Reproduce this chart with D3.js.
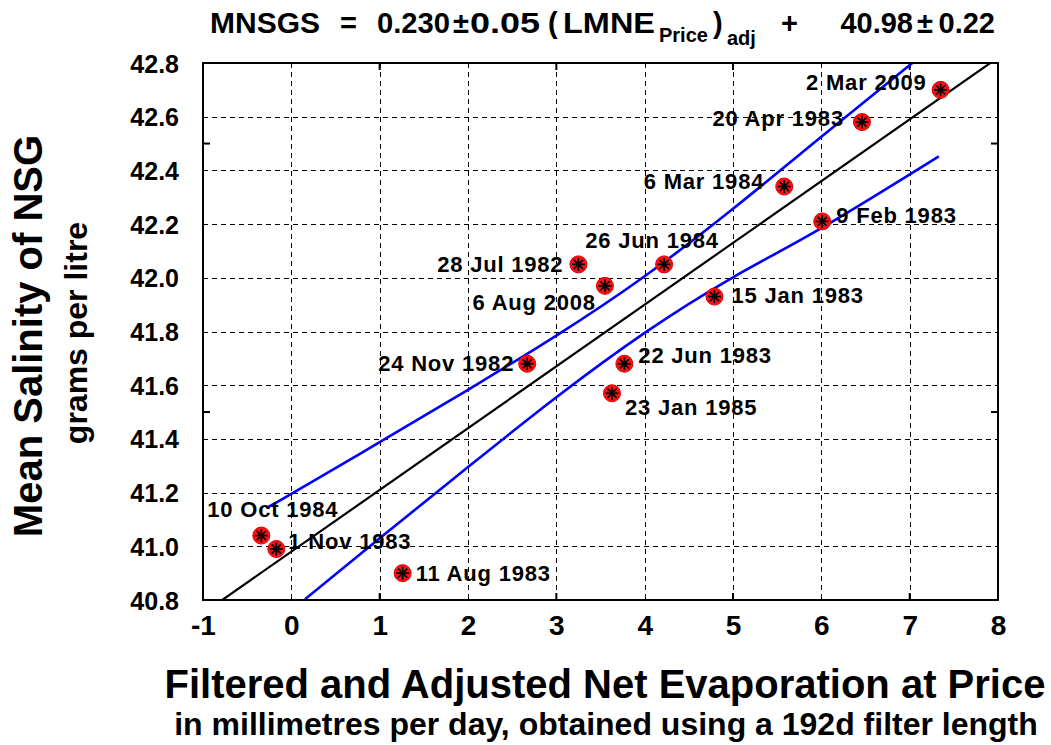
<!DOCTYPE html>
<html>
<head>
<meta charset="utf-8">
<script src="https://cdn.jsdelivr.net/npm/d3@7"></script>
<style>
  body { margin: 0; background: #fff; }
  svg { display: block; }
  text { font-family: "Liberation Sans", Arial, Helvetica, sans-serif; font-weight: bold; fill: #000; }
</style>
</head>
<body>
<svg id="chart" width="1051" height="745"></svg>
<script>
// Sampling dates, filtered net evaporation (mm/day) and mean salinity (g/L)
const sampleDates = ["10 Oct 1984", "1 Nov 1983", "11 Aug 1983", "24 Nov 1982", "28 Jul 1982",
  "6 Aug 2008", "26 Jun 1984", "23 Jan 1985", "22 Jun 1983", "15 Jan 1983",
  "6 Mar 1984", "9 Feb 1983", "20 Apr 1983", "2 Mar 2009"];
const evaporation = [-0.34, -0.17, 1.26, 2.67, 3.25, 3.55, 4.22, 3.63, 3.77, 4.79, 5.58, 6.01, 6.46, 7.35];
const salinity = [41.04, 40.99, 40.90, 41.68, 42.05, 41.97, 42.05, 41.57, 41.68, 41.93, 42.34, 42.21, 42.58, 42.70];

// Regression coefficients
const fitSlope = 0.230, fitSlopeErr = 0.05;
const fitIntercept = 40.98, fitInterceptErr = 0.22;

// Confidence band of the regression
const upperBandX = [-0.28, 0, 1, 2, 3, 4, 5, 6, 7.03];
const upperBandY = [41.143, 41.195, 41.388, 41.583, 41.785, 42.006, 42.257, 42.525, 42.80];
const lowerBandX = [0.155, 1, 2, 3, 4, 5, 6, 7.33];
const lowerBandY = [40.803, 41.03, 41.295, 41.555, 41.795, 42.002, 42.185, 42.452];

// Axis ticks
const xTicks = [-1, 0, 1, 2, 3, 4, 5, 6, 7, 8];
const yTicks = [40.8, 41.0, 41.2, 41.4, 41.6, 41.8, 42.0, 42.2, 42.4, 42.6, 42.8];
const xTickMarks = [1, 3, 5, 7];
const yTickMarks = [41.5, 42.5];

// Where each date label sits relative to its point
const labelPlacement = {
  "10 Oct 1984": { anchor: "start", dx: -54, dy: -19 },
  "1 Nov 1983":  { anchor: "start", dx: 12, dy: 0 },
  "11 Aug 1983": { anchor: "start", dx: 13, dy: 8 },
  "24 Nov 1982": { anchor: "end", dx: -13, dy: 7 },
  "28 Jul 1982": { anchor: "end", dx: -15, dy: 8 },
  "6 Aug 2008":  { anchor: "end", dx: -9, dy: 24 },
  "26 Jun 1984": { anchor: "middle", dx: -12, dy: -16 },
  "23 Jan 1985": { anchor: "start", dx: 13, dy: 22 },
  "22 Jun 1983": { anchor: "start", dx: 14, dy: -1 },
  "15 Jan 1983": { anchor: "start", dx: 17, dy: 6 },
  "6 Mar 1984":  { anchor: "end", dx: -20, dy: 2 },
  "9 Feb 1983":  { anchor: "start", dx: 14, dy: 2 },
  "20 Apr 1983": { anchor: "end", dx: -18, dy: 4 },
  "2 Mar 2009":  { anchor: "end", dx: -14, dy: 0 }
};

const svg = d3.select("#chart");
const plot = { left: 203, right: 998, top: 63, bottom: 600 };

const x = d3.scaleLinear().domain([-1, 8]).range([plot.left, plot.right]);
const y = d3.scaleLinear().domain([40.8, 42.8]).range([plot.bottom, plot.top]);

svg.append("defs").append("clipPath").attr("id", "plot-clip")
  .append("rect")
  .attr("x", plot.left).attr("y", plot.top)
  .attr("width", plot.right - plot.left).attr("height", plot.bottom - plot.top);

// Dashed grid
const grid = svg.append("g").attr("stroke", "#000").attr("stroke-width", 1.5)
  .attr("stroke-dasharray", "5,4").attr("shape-rendering", "crispEdges");
grid.selectAll(".gx").data(xTicks.slice(1, -1)).join("line")
  .attr("x1", d => Math.round(x(d)) + 0.5).attr("x2", d => Math.round(x(d)) + 0.5)
  .attr("y1", plot.top).attr("y2", plot.bottom);
grid.selectAll(".gy").data(yTicks.slice(1, -1)).join("line")
  .attr("y1", d => Math.round(y(d)) + 0.5).attr("y2", d => Math.round(y(d)) + 0.5)
  .attr("x1", plot.left).attr("x2", plot.right);

// Inward tick marks
const marks = svg.append("g").attr("stroke", "#000").attr("stroke-width", 2);
xTickMarks.forEach(d => {
  marks.append("line").attr("x1", x(d)).attr("x2", x(d)).attr("y1", plot.bottom).attr("y2", plot.bottom - 7);
  marks.append("line").attr("x1", x(d)).attr("x2", x(d)).attr("y1", plot.top).attr("y2", plot.top + 7);
});
yTickMarks.forEach(d => {
  marks.append("line").attr("y1", y(d)).attr("y2", y(d)).attr("x1", plot.left).attr("x2", plot.left + 7);
  marks.append("line").attr("y1", y(d)).attr("y2", y(d)).attr("x1", plot.right).attr("x2", plot.right - 7);
});

// Axes (labels only; frame is drawn separately)
const xAxis = svg.append("g").attr("transform", `translate(0,${plot.bottom})`)
  .call(d3.axisBottom(x).tickValues(xTicks).tickFormat(d => String(d)).tickSize(0));
xAxis.select(".domain").remove();
xAxis.selectAll("text").attr("dy", null).attr("y", 35)
  .style("font-size", "28px").style("font-family", "'Liberation Sans', Arial, sans-serif").style("font-weight", "bold");

const yAxis = svg.append("g").attr("transform", `translate(${plot.left},0)`)
  .call(d3.axisLeft(y).tickValues(yTicks).tickFormat(d3.format(".1f")).tickSize(0));
yAxis.select(".domain").remove();
yAxis.selectAll("text").attr("x", -24).attr("dy", "0.36em")
  .style("font-size", "25px").style("font-family", "'Liberation Sans', Arial, sans-serif").style("font-weight", "bold");

// Regression line and confidence band
const lines = svg.append("g").attr("clip-path", "url(#plot-clip)").attr("fill", "none");
const fitX = x.domain();
lines.append("path")
  .attr("d", d3.line()(fitX.map(v => [x(v), y(fitIntercept + fitSlope * v)])))
  .attr("stroke", "#000").attr("stroke-width", 2.2);

const band = d3.line().x(d => x(d[0])).y(d => y(d[1])).curve(d3.curveNatural);
lines.append("path").attr("d", band(d3.zip(upperBandX, upperBandY)))
  .attr("stroke", "#0000ff").attr("stroke-width", 2.6);
lines.append("path").attr("d", band(d3.zip(lowerBandX, lowerBandY)))
  .attr("stroke", "#0000ff").attr("stroke-width", 2.6);

// Frame
svg.append("rect")
  .attr("x", plot.left).attr("y", plot.top)
  .attr("width", plot.right - plot.left).attr("height", plot.bottom - plot.top)
  .attr("fill", "none").attr("stroke", "#000").attr("stroke-width", 2);

// Points: red disc with black asterisk
const pts = d3.zip(sampleDates, evaporation, salinity);
const pg = svg.append("g").selectAll("g").data(pts).join("g")
  .attr("transform", d => `translate(${x(d[1])},${y(d[2])})`);
pg.append("circle").attr("r", 8.5).attr("fill", "#ff1010").attr("stroke", "#e00000").attr("stroke-width", 1);
[0, 45, 90, 135].forEach(a => {
  const r = 6.5, t = a * Math.PI / 180;
  pg.append("line")
    .attr("x1", -r * Math.cos(t)).attr("y1", -r * Math.sin(t))
    .attr("x2", r * Math.cos(t)).attr("y2", r * Math.sin(t))
    .attr("stroke", "#000").attr("stroke-width", 1.7);
});

// Date labels
svg.append("g").selectAll("text").data(pts).join("text")
  .attr("x", d => x(d[1]) + labelPlacement[d[0]].dx)
  .attr("y", d => y(d[2]) + labelPlacement[d[0]].dy)
  .attr("text-anchor", d => labelPlacement[d[0]].anchor)
  .style("font-size", "22px").style("letter-spacing", "0.8px")
  .text(d => d[0]);

// Regression equation
const title = svg.append("g").style("font-size", "29px");
const piece = (str, px, opts = {}) => title.append("text")
  .attr("x", px).attr("y", opts.y || 33)
  .attr("text-anchor", opts.anchor || "start")
  .attr("textLength", opts.len || null)
  .attr("lengthAdjust", opts.len ? "spacingAndGlyphs" : null)
  .style("font-size", opts.size || null)
  .text(str);
piece("MNSGS", 210, { len: 110 });
piece("=", 340);
piece(fitSlope.toFixed(3), 377, { len: 73 });
piece("±", 453);
piece(fitSlopeErr.toFixed(2), 470, { len: 70 });
piece("(", 548);
piece("LMNE", 563, { len: 92 });
piece("Price", 659, { y: 42, size: "20px" });
piece(")", 713);
piece("adj", 727, { y: 45, size: "20px" });
piece("+", 781);
piece(fitIntercept.toFixed(2), 913, { anchor: "end" });
piece("±", 917);
piece(fitInterceptErr.toFixed(2), 995, { anchor: "end" });

// Axis titles
svg.append("text").attr("transform", "translate(42,336) rotate(-90)").attr("text-anchor", "middle")
  .style("font-size", "40px").text("Mean Salinity of NSG");
svg.append("text").attr("transform", "translate(87,333) rotate(-90)").attr("text-anchor", "middle")
  .style("font-size", "32px").text("grams per litre");
svg.append("text").attr("x", 605).attr("y", 698).attr("text-anchor", "middle")
  .style("font-size", "40px").text("Filtered and Adjusted Net Evaporation at Price");
svg.append("text").attr("x", 606).attr("y", 735).attr("text-anchor", "middle")
  .style("font-size", "32px").text("in millimetres per day, obtained using a 192d filter length");
</script>
</body>
</html>
